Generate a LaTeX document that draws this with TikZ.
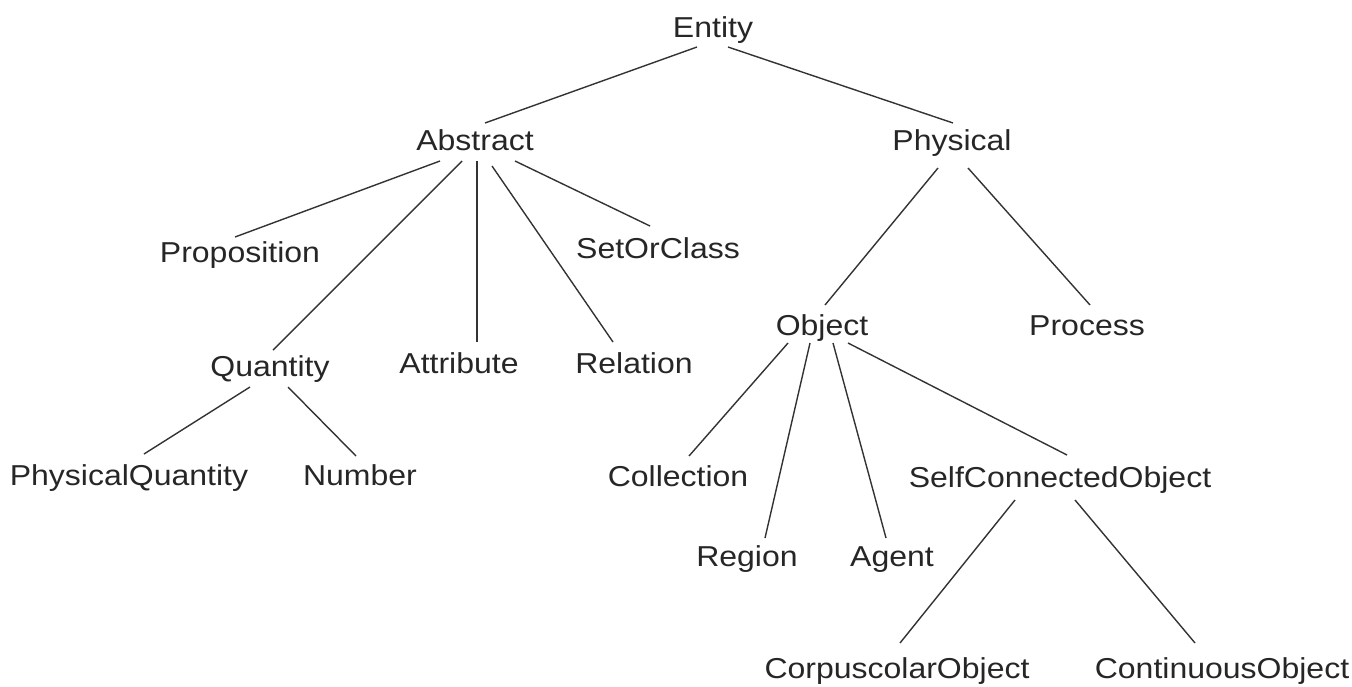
\documentclass[tikz,border=0pt]{standalone}
\usepackage{graphicx}
\usepackage{fontspec}
\setmainfont{Liberation Sans}
% labels are set slightly condensed in height
\newcommand{\termlabel}[1]{\scalebox{1}[0.9]{#1}}
\begin{document}
\begin{tikzpicture}[x=0.5pt,y=-0.5pt,
  concept/.style={inner sep=0pt,anchor=center,text height=10.3pt,text depth=0pt,
    font=\fontsize{16}{19}\selectfont,text=black!85},
  branch/.style={draw=black!80,line width=0.7pt}]
\useasboundingbox (0,0) rectangle (1352,686);
% concepts of the upper ontology
\node[concept] (entity)      at (713,27)  {\termlabel{Entity}};
\node[concept] (abstract)    at (475,140) {\termlabel{Abstract}};
\node[concept] (physical)    at (952,140) {\termlabel{Physical}};
\node[concept] (proposition) at (240,252) {\termlabel{Proposition}};
\node[concept] (setorclass)  at (658,248) {\termlabel{SetOrClass}};
\node[concept] (quantity)    at (270,366) {\termlabel{Quantity}};
\node[concept] (attribute)   at (459,363) {\termlabel{Attribute}};
\node[concept] (relation)    at (634,363) {\termlabel{Relation}};
\node[concept] (object)      at (822,325) {\termlabel{Object}};
\node[concept] (process)     at (1087,325) {\termlabel{Process}};
\node[concept] (physq)       at (129,475) {\termlabel{PhysicalQuantity}};
\node[concept] (number)      at (360,475) {\termlabel{Number}};
\node[concept] (collection)  at (678,476) {\termlabel{Collection}};
\node[concept] (sco)         at (1060,477) {\termlabel{SelfConnectedObject}};
\node[concept] (region)      at (747,556) {\termlabel{Region}};
\node[concept] (agent)       at (892,556) {\termlabel{Agent}};
\node[concept] (corpus)      at (897,668) {\termlabel{CorpuscolarObject}};
\node[concept] (contin)      at (1222,668) {\termlabel{ContinuousObject}};
% subclass links
\draw[branch] ([shift={(-16,20)}]entity.center) -- ([shift={(10,-17)}]abstract.center);
\draw[branch] ([shift={(15,20)}]entity.center) -- ([shift={(1,-17)}]physical.center);
\draw[branch] ([shift={(-35,21)}]abstract.center) -- ([shift={(-5,-15)}]proposition.center);
\draw[branch] ([shift={(-13,21)}]abstract.center) -- ([shift={(3,-16)}]quantity.center);
\draw[branch] ([shift={(2,21)}]abstract.center) -- ([shift={(18,-21)}]attribute.center);
\draw[branch] ([shift={(17,26)}]abstract.center) -- ([shift={(-21,-21)}]relation.center);
\draw[branch] ([shift={(40,21)}]abstract.center) -- ([shift={(-8,-22)}]setorclass.center);
\draw[branch] ([shift={(-14,28)}]physical.center) -- ([shift={(3,-20)}]object.center);
\draw[branch] ([shift={(16,28)}]physical.center) -- ([shift={(3,-20)}]process.center);
\draw[branch] ([shift={(-20,21)}]quantity.center) -- ([shift={(15,-21)}]physq.center);
\draw[branch] ([shift={(18,21)}]quantity.center) -- ([shift={(-4,-19)}]number.center);
\draw[branch] ([shift={(-34,18)}]object.center) -- ([shift={(11,-20)}]collection.center);
\draw[branch] ([shift={(-12,18)}]object.center) -- ([shift={(18,-18)}]region.center);
\draw[branch] ([shift={(11,18)}]object.center) -- ([shift={(-6,-18)}]agent.center);
\draw[branch] ([shift={(26,18)}]object.center) -- ([shift={(7,-22)}]sco.center);
\draw[branch] ([shift={(-45,23)}]sco.center) -- ([shift={(3,-25)}]corpus.center);
\draw[branch] ([shift={(15,23)}]sco.center) -- ([shift={(-27,-25)}]contin.center);
\end{tikzpicture}
\end{document}
